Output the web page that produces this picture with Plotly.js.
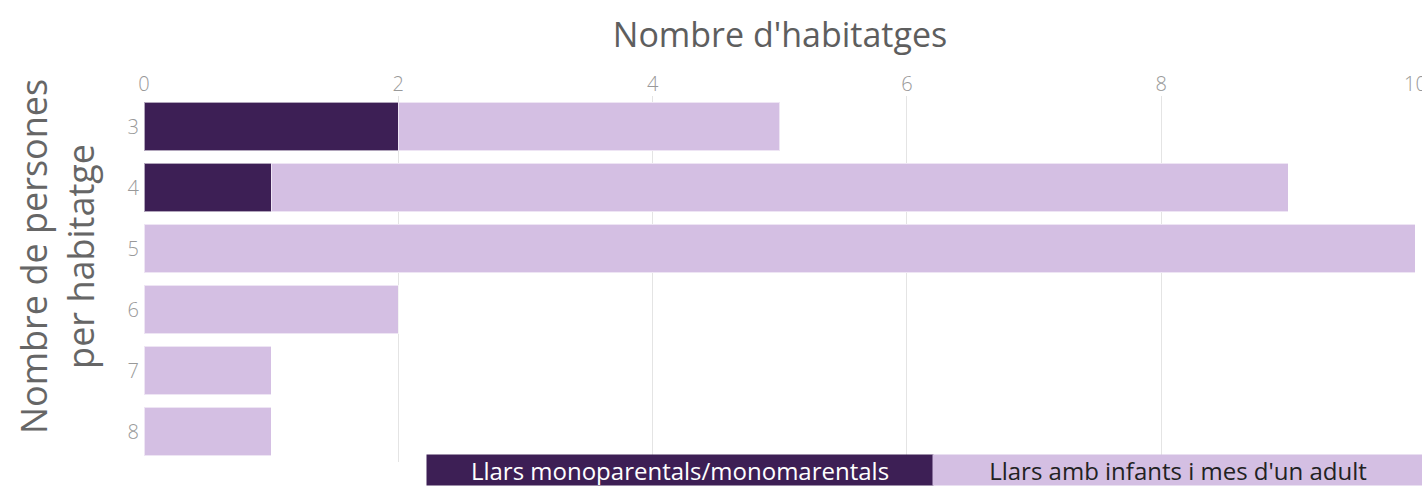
<!DOCTYPE html>
<html>
<head>
<meta charset="utf-8">
<script src="https://cdn.plot.ly/plotly-3.0.1.min.js"></script>
<style>html,body{margin:0;padding:0;background:#fff;}#chart{width:1422px;height:486px;}</style>
</head>
<body>
<div id="chart"></div>
<script>
const categories = ["3", "4", "5", "6", "7", "8"];
const seriesNames = ["Llars monoparentals/monomarentals", "Llars amb infants i mes d'un adult"];
const monoparentals = [2, 1, 0, 0, 0, 0];
const ambInfants = [3, 8, 10, 2, 1, 1];
const xTicks = [0, 2, 4, 6, 8, 10];

const FONT = "'Open Sans', Lato, sans-serif";
const DARK = "#3d1f55";
const LIGHT = "#d4bfe3";

const traces = [
  {type: "bar", orientation: "h", name: seriesNames[0], y: categories, x: monoparentals,
   marker: {color: DARK, line: {color: "rgba(255,255,255,0.6)", width: 1}}, showlegend: false, hoverinfo: "x+y"},
  {type: "bar", orientation: "h", name: seriesNames[1], y: categories, x: ambInfants,
   marker: {color: LIGHT, line: {color: "rgba(255,255,255,0.6)", width: 1}}, showlegend: false, hoverinfo: "x+y"}
];

const PH = 366;
const layout = {
  width: 1422, height: 486,
  margin: {l: 144, r: 6, t: 96, b: 24},
  paper_bgcolor: "#fff", plot_bgcolor: "#fff",
  barmode: "stack", bargap: 0.2,
  font: {family: FONT, color: "#888"},
  xaxis: {
    side: "top", range: [0, 10.004], tickvals: xTicks, ticktext: xTicks.map(String),
    ticklabeloverflow: "allow",
    showgrid: true, gridcolor: "#e4e4e4", gridwidth: 1, zeroline: false,
    showline: false, ticks: "", tickfont: {size: 20, color: "#999", family: FONT, weight: 300},
    title: {text: "Nombre d'habitatges", font: {size: 34, color: "#5e5e5e", family: FONT}, standoff: 12}
  },
  yaxis: {
    type: "category", autorange: "reversed", showgrid: false, zeroline: false, ticks: "",
    tickfont: {size: 20, color: "#999", family: FONT, weight: 300}, ticklabelstandoff: 4
  },
  annotations: [
    {xref: "paper", yref: "paper", x: (57 - 144) / 1272, y: (462 - 257) / PH, xanchor: "center", yanchor: "middle",
     text: "Nombre de persones<br>per habitatge", textangle: -90, showarrow: false,
     font: {size: 36, color: "#666", family: FONT}},
    {xref: "paper", yref: "paper", x: (426 - 144) / 1272, y: -24 / PH, xanchor: "left", yanchor: "bottom",
     text: seriesNames[0], showarrow: false, bgcolor: DARK, font: {size: 24, color: "#fff", family: FONT},
     width: 506, height: 30, borderpad: 0, align: "center", valign: "middle"},
    {xref: "paper", yref: "paper", x: (932 - 144) / 1272, y: -24 / PH, xanchor: "left", yanchor: "bottom",
     text: seriesNames[1], showarrow: false, bgcolor: LIGHT, font: {size: 24, color: "#222", family: FONT},
     width: 490, height: 30, borderpad: 0, align: "center", valign: "middle"}
  ]
};

Plotly.newPlot("chart", traces, layout, {displayModeBar: false, responsive: false});
</script>
</body>
</html>
